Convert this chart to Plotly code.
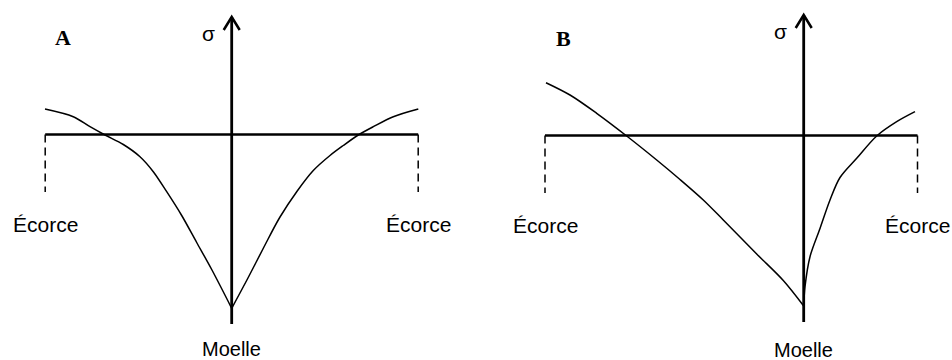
import plotly.graph_objects as go
from plotly.subplots import make_subplots

# Panel A : distance à la moelle (r) et contrainte (sigma)
r_a_gauche = [-18.67, -15.84, -14.17, -12.67, -10.84, -9.17, -7.84, -6.5, -5.0, -3.5, -2.0, 0.0]
sig_a_gauche = [2.55, 1.78, 0.78, -0.05, -1.0, -2.22, -3.72, -5.72, -8.1, -10.8, -13.5, -17.38]
r_a_droite = [0.0, 1.6, 3.2, 4.8, 6.5, 8.16, 9.83, 11.16, 12.66, 14.16, 16.16, 18.66]
sig_a_droite = [-17.38, -14.4, -11.3, -8.3, -5.72, -3.6, -2.1, -1.1, -0.05, 0.78, 1.78, 2.55]

# Panel B
r_b_gauche = [-25.77, -23.37, -20.7, -17.7, -14.7, -12.37, -10.04, -8.04, -4.7, -2.04, 0.0]
sig_b_gauche = [5.28, 4.05, 2.22, -0.05, -2.45, -4.4, -6.45, -8.45, -11.85, -14.5, -17.05]
r_b_droite = [0.0, 0.13, 0.63, 1.63, 2.63, 3.63, 5.3, 7.3, 9.3, 11.13]
sig_b_droite = [-17.05, -15.12, -12.12, -9.3, -6.45, -4.2, -2.28, -0.05, 1.38, 2.38]

ecorce_a = [-18.65, 18.65]
ecorce_b = [-25.87, 11.38]
panneaux = ["A", "B"]

NOIR = "black"
SANS = "Liberation Sans, Arial, sans-serif"
SERIF = "Liberation Serif, Times New Roman, serif"

fig = make_subplots(rows=1, cols=2, horizontal_spacing=0)

courbes = [
    (1, r_a_gauche, sig_a_gauche), (1, r_a_droite, sig_a_droite),
    (2, r_b_gauche, sig_b_gauche), (2, r_b_droite, sig_b_droite),
]
for col, r, s in courbes:
    fig.add_trace(go.Scatter(
        x=r, y=s, mode="lines",
        line=dict(color=NOIR, width=1.5, shape="spline", smoothing=0.9),
        showlegend=False, hoverinfo="skip"
    ), row=1, col=col)

# axes dessinés : ligne sigma = 0, axe vertical fléché, pointillés aux écorces
reglages = [
    dict(col=1, ecorce=ecorce_a, bas=-18.95, haut=11.75, nom=panneaux[0]),
    dict(col=2, ecorce=ecorce_b, bas=-18.65, haut=12.05, nom=panneaux[1]),
]
for p in reglages:
    xr = "x" if p["col"] == 1 else "x2"
    yr = "y" if p["col"] == 1 else "y2"
    g, d = p["ecorce"]
    fig.add_shape(type="line", xref=xr, yref=yr, x0=g, x1=d, y0=0, y1=0,
                  line=dict(color=NOIR, width=2.5))
    fig.add_shape(type="line", xref=xr, yref=yr, x0=0, x1=0, y0=p["bas"], y1=p["haut"],
                  line=dict(color=NOIR, width=2.8))
    fig.add_shape(type="path", xref=xr, yref=yr,
                  path=f"M -0.8 {p['haut'] - 1.3} L 0 {p['haut']} L 0.8 {p['haut'] - 1.3}",
                  line=dict(color=NOIR, width=2.5))
    for xe in (g, d):
        fig.add_shape(type="line", xref=xr, yref=yr, x0=xe, x1=xe, y0=0, y1=-5.75,
                      line=dict(color=NOIR, width=1.5, dash="8px,5px"))
        fig.add_annotation(x=xe, y=-9.0, xref=xr, yref=yr, text="Écorce", showarrow=False,
                           font=dict(family=SANS, size=21, color=NOIR))
    fig.add_annotation(x=0, y=-21.45, xref=xr, yref=yr, text="Moelle", showarrow=False,
                       font=dict(family=SANS, size=20, color=NOIR))
    fig.add_annotation(x=-2.3, y=p["haut"] - 1.6, xref=xr, yref=yr, text="σ", showarrow=False,
                       font=dict(family=SANS, size=21, color=NOIR))
    fig.add_annotation(x=g + 1.8, y=9.7, xref=xr, yref=yr, text=f"<b>{p['nom']}</b>",
                       showarrow=False, font=dict(family=SERIF, size=22, color=NOIR))

ax_cache = dict(visible=False, showgrid=False, zeroline=False, fixedrange=True)
fig.update_layout(
    width=952, height=360,
    margin=dict(l=0, r=0, t=0, b=0),
    plot_bgcolor="white", paper_bgcolor="white",
    xaxis=dict(ax_cache, domain=[0, 0.5], range=[-23.17, 24.43]),
    xaxis2=dict(ax_cache, domain=[0.5, 1], range=[-32.77, 14.83]),
    yaxis=dict(ax_cache, range=[-22.55, 13.45]),
    yaxis2=dict(ax_cache, range=[-22.45, 13.55]),
)

# la page a une marge de 8px par défaut : on la retire
fig.write_html("out.html", config={"displayModeBar": False},
               post_script="document.body.style.margin='0px';")
